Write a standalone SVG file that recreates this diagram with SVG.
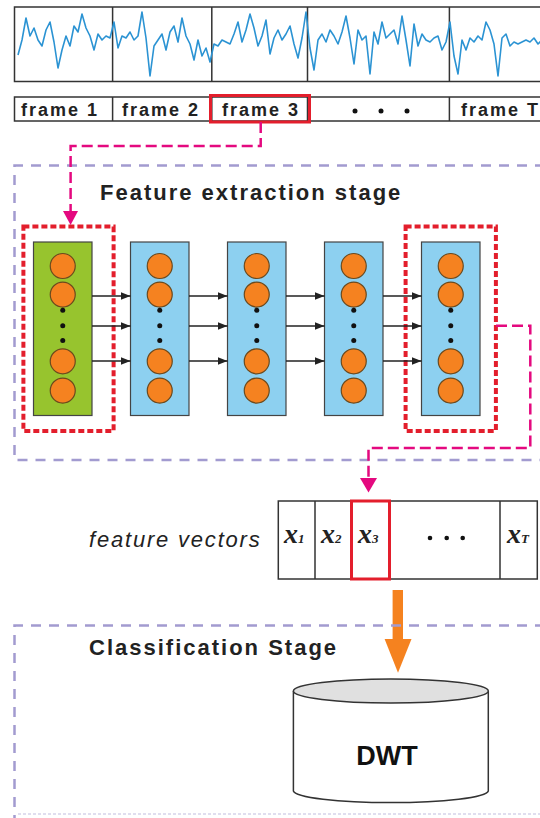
<svg xmlns="http://www.w3.org/2000/svg" width="540" height="818" viewBox="0 0 540 818">
<defs>
<style>
.box{fill:#fff;stroke:#333;stroke-width:1.5}
.lbl{font-family:"Liberation Sans",Arial,sans-serif;font-weight:bold;fill:#222}
.frm{font-size:18px;letter-spacing:2px}
.stage{font-size:22px;letter-spacing:2px}
.stagebox{fill:none;stroke:#a29bd0;stroke-width:2.5;stroke-dasharray:10 8}
.reddash{fill:none;stroke:#e31e2c;stroke-width:4;stroke-dasharray:6 3}
.mag{fill:none;stroke:#e4097f;stroke-width:2.5;stroke-dasharray:11 5}
.layer{stroke:#444;stroke-width:1.2}
.neuron{fill:#f58220;stroke:#6b4a1e;stroke-width:1.2}
.dot{fill:#111}
.conn{stroke:#222;stroke-width:1.3;fill:none}
.xv{font-family:"Liberation Serif","Times New Roman",serif;font-style:italic;font-weight:bold;font-size:28px;fill:#222}
.xs{font-size:13px}
</style>
<marker id="ah" markerWidth="10" markerHeight="8" refX="10" refY="4" orient="auto" markerUnits="userSpaceOnUse">
<path d="M0,0 L10,4 L0,8 z" fill="#222"/>
</marker>
</defs>

<!-- signal -->
<g id="signal">
<rect x="14.5" y="7" width="540" height="74.5" class="box"/>
<path d="M112.6 7V81.5M211.8 7V81.5M307.5 7V81.5M449.4 7V81.5" stroke="#333" stroke-width="1.5"/>
<polyline fill="none" stroke="#2b93d3" stroke-width="1.6" stroke-linejoin="round" points="18,55 22,40 26,18 30,36 34,28 38,40 42,46 46,30 50,22 54,42 58,68 62,50 66,36 70,46 74,26 78,32 82,14 86,28 90,36 94,50 98,34 102,40 106,36 110,38 114,22 118,48 122,36 126,38 130,32 134,40 138,36 142,12 146,38 150,76 154,46 158,40 162,34 166,50 170,32 174,26 178,42 182,18 186,36 190,44 194,60 198,40 202,56 206,48 210,62 214,44 218,46 222,40 226,42 230,44 234,34 238,22 242,42 246,30 250,14 254,28 258,46 262,36 266,20 270,54 274,38 278,30 282,40 286,34 290,26 294,44 298,58 302,38 306,12 310,48 314,70 318,40 322,34 326,42 330,30 334,36 338,44 342,32 346,16 350,38 354,64 358,30 362,40 366,36 370,74 374,32 378,44 382,22 386,38 390,34 394,30 398,44 402,16 406,40 410,66 414,24 418,46 422,34 426,40 430,42 434,38 438,36 442,50 446,42 450,22 454,56 458,74 462,40 466,50 470,38 474,42 478,36 482,40 486,22 490,30 494,44 498,76 502,38 506,34 510,46 514,42 518,44 522,42 526,40 530,42 534,38 538,44 542,40"/>
</g>

<!-- frames -->
<g id="frames">
<rect x="14.5" y="97" width="540" height="24" class="box"/>
<path d="M112.6 97V121M211.8 97V121M307.5 97V121M449.4 97V121" stroke="#333" stroke-width="1.5"/>
<text x="21" y="116" class="lbl frm">frame 1</text>
<text x="122" y="116" class="lbl frm">frame 2</text>
<text x="222" y="116" class="lbl frm">frame 3</text>
<circle cx="355" cy="111" r="2.5" class="dot"/>
<circle cx="381" cy="111" r="2.5" class="dot"/>
<circle cx="407" cy="111" r="2.5" class="dot"/>
<text x="461" y="116" class="lbl frm">frame T</text>
<rect x="210.5" y="95.5" width="99" height="26.5" fill="none" stroke="#e31e2c" stroke-width="3"/>
</g>

<!-- feature extraction stage -->
<g id="feature-stage">
<path d="M545 165.5H14.5V460H545" class="stagebox"/>
<text x="100" y="200" class="lbl stage">Feature extraction stage</text>
</g>

<g id="layers">
<g id="layer1"><rect x="33.5" y="242" width="58.5" height="173.5" fill="#97c42e" class="layer"/></g>
<g id="layer2"><rect x="130.5" y="242" width="58.5" height="173.5" fill="#8dd0f0" class="layer"/></g>
<g id="layer3"><rect x="227.5" y="242" width="58.5" height="173.5" fill="#8dd0f0" class="layer"/></g>
<g id="layer4"><rect x="324.5" y="242" width="58.5" height="173.5" fill="#8dd0f0" class="layer"/></g>
<g id="layer5"><rect x="421.5" y="242" width="58.5" height="173.5" fill="#8dd0f0" class="layer"/></g>
<g id="neurons">
<g transform="translate(62.75 0)">
<circle cy="266" r="12.5" class="neuron"/><circle cy="294.6" r="12.5" class="neuron"/>
<circle cy="310.3" r="2.5" class="dot"/><circle cy="325.8" r="2.5" class="dot"/><circle cy="340.6" r="2.5" class="dot"/>
<circle cy="361.3" r="12.5" class="neuron"/><circle cy="390.6" r="12.5" class="neuron"/>
</g>
<g transform="translate(159.75 0)">
<circle cy="266" r="12.5" class="neuron"/><circle cy="294.6" r="12.5" class="neuron"/>
<circle cy="310.3" r="2.5" class="dot"/><circle cy="325.8" r="2.5" class="dot"/><circle cy="340.6" r="2.5" class="dot"/>
<circle cy="361.3" r="12.5" class="neuron"/><circle cy="390.6" r="12.5" class="neuron"/>
</g>
<g transform="translate(256.75 0)">
<circle cy="266" r="12.5" class="neuron"/><circle cy="294.6" r="12.5" class="neuron"/>
<circle cy="310.3" r="2.5" class="dot"/><circle cy="325.8" r="2.5" class="dot"/><circle cy="340.6" r="2.5" class="dot"/>
<circle cy="361.3" r="12.5" class="neuron"/><circle cy="390.6" r="12.5" class="neuron"/>
</g>
<g transform="translate(353.75 0)">
<circle cy="266" r="12.5" class="neuron"/><circle cy="294.6" r="12.5" class="neuron"/>
<circle cy="310.3" r="2.5" class="dot"/><circle cy="325.8" r="2.5" class="dot"/><circle cy="340.6" r="2.5" class="dot"/>
<circle cy="361.3" r="12.5" class="neuron"/><circle cy="390.6" r="12.5" class="neuron"/>
</g>
<g transform="translate(450.75 0)">
<circle cy="266" r="12.5" class="neuron"/><circle cy="294.6" r="12.5" class="neuron"/>
<circle cy="310.3" r="2.5" class="dot"/><circle cy="325.8" r="2.5" class="dot"/><circle cy="340.6" r="2.5" class="dot"/>
<circle cy="361.3" r="12.5" class="neuron"/><circle cy="390.6" r="12.5" class="neuron"/>
</g>
</g>
</g>

<g id="selections">
<rect x="23.4" y="226.4" width="90.2" height="204.5" class="reddash"/>
<rect x="405.6" y="226.4" width="90.3" height="204.5" class="reddash"/>
</g>

<!-- connectors -->
<g id="connectors">
<path d="M92 296H130.5" class="conn" marker-end="url(#ah)"/>
<path d="M92 326H130.5" class="conn" marker-end="url(#ah)"/>
<path d="M92 361H130.5" class="conn" marker-end="url(#ah)"/>
<path d="M189 296H227.5" class="conn" marker-end="url(#ah)"/>
<path d="M189 326H227.5" class="conn" marker-end="url(#ah)"/>
<path d="M189 361H227.5" class="conn" marker-end="url(#ah)"/>
<path d="M286 296H324.5" class="conn" marker-end="url(#ah)"/>
<path d="M286 326H324.5" class="conn" marker-end="url(#ah)"/>
<path d="M286 361H324.5" class="conn" marker-end="url(#ah)"/>
<path d="M383 296H421.5" class="conn" marker-end="url(#ah)"/>
<path d="M383 326H421.5" class="conn" marker-end="url(#ah)"/>
<path d="M383 361H421.5" class="conn" marker-end="url(#ah)"/>
<path d="M260.7 122V146H70.6V212" class="mag"/>
<polygon points="63,211 78,211 70.6,225" fill="#e4097f"/>
<path d="M496 325.8H530.3V448H368.5V479" class="mag"/>
<polygon points="360,478 377,478 368.5,492.4" fill="#e4097f"/>
<rect x="392.6" y="590" width="10.4" height="50" fill="#f5821f"/>
<polygon points="384.6,639 411.5,639 398,672.7" fill="#f5821f"/>
</g>

<!-- feature vectors -->
<g id="feature-vectors">
<text x="89" y="547" font-family="'Liberation Sans',Arial,sans-serif" font-style="italic" font-size="22" letter-spacing="1.8" fill="#222">feature vectors</text>
<rect x="278.3" y="501" width="259" height="78" class="box"/>
<path d="M315 501V579M500 501V579" stroke="#333" stroke-width="1.5"/>
<text x="284" y="543" class="xv">x<tspan class="xs">1</tspan></text>
<text x="321" y="543" class="xv">x<tspan class="xs">2</tspan></text>
<text x="358" y="543" class="xv">x<tspan class="xs">3</tspan></text>
<circle cx="430" cy="538" r="2.3" class="dot"/>
<circle cx="446.7" cy="538" r="2.3" class="dot"/>
<circle cx="462.7" cy="538" r="2.3" class="dot"/>
<text x="507" y="543" class="xv">x<tspan class="xs">T</tspan></text>
<rect x="351.5" y="501" width="38" height="78" fill="none" stroke="#e31e2c" stroke-width="3"/>
</g>

<!-- classification stage -->
<g id="classification-stage">
<path d="M545 625.5H14.5V818" class="stagebox"/>
<path d="M18 814H540" stroke="#d6d3ea" stroke-width="1.5" stroke-dasharray="3 2"/>
<text x="89" y="655" class="lbl stage">Classification Stage</text>
</g>

<g id="dwt">
<path d="M293.4 691V791A97.5 12 0 0 0 488.3 791V691" fill="#fff" stroke="#333" stroke-width="1.5"/>
<ellipse cx="390.85" cy="691" rx="97.45" ry="12" fill="#e0e0e0" stroke="#333" stroke-width="1.5"/>
<text x="387" y="765" text-anchor="middle" font-family="'Liberation Sans',Arial,sans-serif" font-weight="bold" font-size="27" fill="#111">DWT</text>
</g>
</svg>
